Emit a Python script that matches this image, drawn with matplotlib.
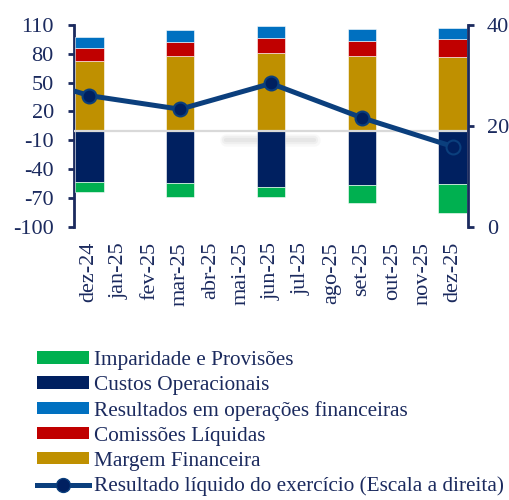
import matplotlib
matplotlib.use("Agg")
import matplotlib.pyplot as plt
from matplotlib.patches import Patch
from matplotlib.lines import Line2D
import numpy as np

plt.rcParams['font.family'] = ['Liberation Serif', 'DejaVu Serif']
plt.rcParams['axes.unicode_minus'] = False

months = ["dez-24", "jan-25", "fev-25", "mar-25", "abr-25", "mai-25", "jun-25",
          "jul-25", "ago-25", "set-25", "out-25", "nov-25", "dez-25"]
bar_months = ["dez-24", "mar-25", "jun-25", "set-25", "dez-25"]
margem = [72.4, 77.6, 81.0, 77.6, 77.0]
comissoes = [14.0, 15.0, 15.0, 16.0, 18.0]
rof = [11.5, 12.2, 13.0, 12.0, 11.5]
custos = [-53.7, -54.3, -58.9, -56.1, -56.0]
imparidade = [-10.5, -15.0, -10.5, -19.5, -30.0]

line_months = ["set-24", "dez-24", "mar-25", "jun-25", "set-25", "dez-25"]
resultado = [31.5, 26.0, 23.3, 28.4, 21.6, 15.9]

C_IMP = '#00b050'
C_CUS = '#002060'
C_ROF = '#0070c0'
C_COM = '#c00000'
C_MAR = '#bf9000'
C_LINE = '#0b3f7d'
C_TXT = '#1b2a5e'

fig = plt.figure(figsize=(5.1, 5.0), dpi=100)
ax = fig.add_axes([74/510, 1-226.7/500, (468-74)/510, (226.7-25)/500])
ax2 = ax.twinx()

idx = {m: i for i, m in enumerate(months)}
idx["set-24"] = -3

xb = np.array([idx[m] for m in bar_months])
w = 0.95
ekw = dict(edgecolor='white', linewidth=0.4, zorder=3)
ax.bar(xb, margem, w, color=C_MAR, **ekw)
b1 = np.array(margem)
ax.bar(xb, comissoes, w, bottom=b1, color=C_COM, **ekw)
b2 = b1 + np.array(comissoes)
ax.bar(xb, rof, w, bottom=b2, color=C_ROF, **ekw)
ax.bar(xb, custos, w, color=C_CUS, **ekw)
ax.bar(xb, imparidade, w, bottom=np.array(custos), color=C_IMP, **ekw)

ax.axhline(0, color='#d9d9d9', lw=1.6, zorder=4)
# faint shadow artifact
for lw, a in [(9, 0.05), (6, 0.07), (3, 0.08)]:
    ax.plot([0.385, 0.61], [0.43, 0.43], transform=ax.transAxes, color='#808080',
            lw=lw, alpha=a, solid_capstyle='round', zorder=1)

ax.set_xlim(-0.5, len(months) - 0.5)
ax.set_ylim(-100, 110)
ax.set_yticks(np.arange(-100, 111, 30))
ax.set_xticks(range(len(months)))
ax.set_xticklabels(months, rotation=90, fontsize=16, color=C_TXT)
ax.tick_params(axis='x', length=0, pad=11)
ax.tick_params(axis='y', direction='out', length=4.5, width=2, color=C_TXT,
               labelsize=16, labelcolor=C_TXT, pad=10)

xl = [idx[m] for m in line_months]
ax2.plot(xl, resultado, color=C_LINE, lw=3.6, marker='o', markersize=10,
         markerfacecolor=C_CUS, markeredgecolor=C_LINE, markeredgewidth=1.5,
         zorder=5, clip_on=True)
ax2.set_ylim(0, 40)
ax2.set_yticks([0, 20, 40])
ax2.tick_params(axis='y', direction='out', length=4.5, width=2, color=C_TXT,
                labelsize=16, labelcolor=C_TXT, pad=9)

for a in (ax, ax2):
    a.spines['top'].set_visible(False)
    a.spines['bottom'].set_visible(False)
    a.patch.set_visible(False)
ax.spines['right'].set_visible(False)
ax2.spines['left'].set_visible(False)
ax.spines['left'].set_color(C_TXT)
ax.spines['left'].set_linewidth(2)
ax2.spines['right'].set_color(C_TXT)
ax2.spines['right'].set_linewidth(2)

handles = [
    Patch(facecolor=C_IMP, label='Imparidade e Provisões'),
    Patch(facecolor=C_CUS, label='Custos Operacionais'),
    Patch(facecolor=C_ROF, label='Resultados em operações financeiras'),
    Patch(facecolor=C_COM, label='Comissões Líquidas'),
    Patch(facecolor=C_MAR, label='Margem Financeira'),
    Line2D([], [], color=C_LINE, lw=3.6, marker='o', markersize=10,
           markerfacecolor=C_CUS, markeredgecolor=C_LINE,
           label='Resultado líquido do exercício (Escala a direita)'),
]
leg = fig.legend(handles=handles, loc='upper left', bbox_to_anchor=(37/510, 1-351/500),
                 frameon=False, fontsize=15.3, handlelength=2.45, handleheight=0.52,
                 handletextpad=0.22, labelspacing=0.28, borderpad=0, borderaxespad=0)
for t in leg.get_texts():
    t.set_color(C_TXT)

fig.savefig('out.png', dpi=100)
